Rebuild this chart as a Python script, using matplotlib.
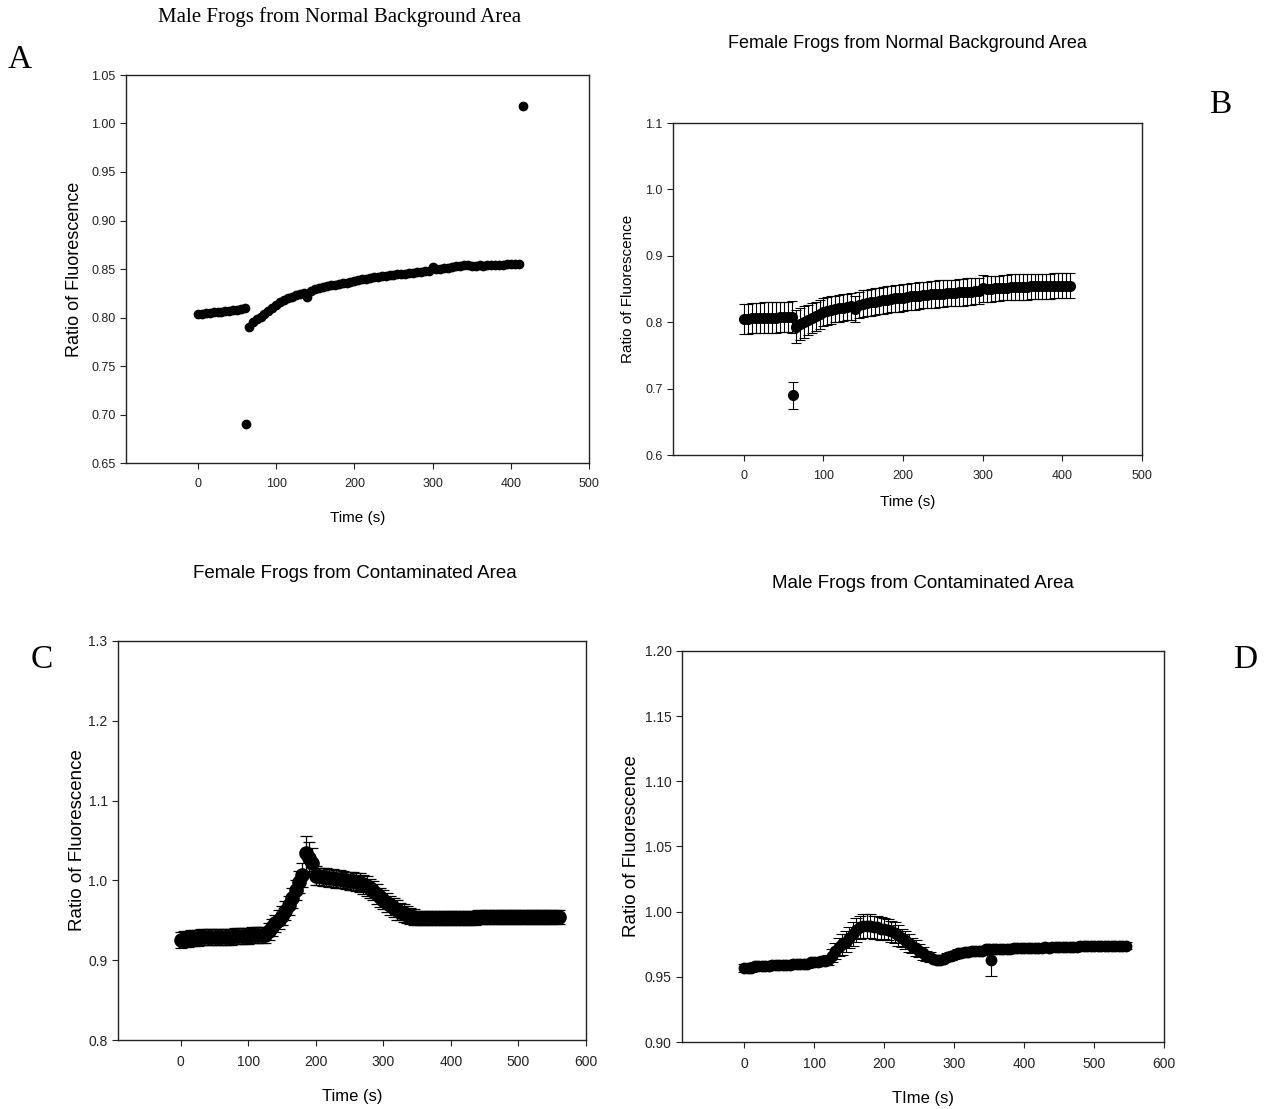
import numpy as np
import matplotlib
matplotlib.use("Agg")
from matplotlib import pyplot as plt

plt.rcParams['font.family'] = ['Liberation Sans', 'DejaVu Sans']

W, H = 1267, 1109

# --- A: male frogs, normal background (no error bars)
t_a1 = np.arange(0, 61, 5)
y_a1 = [0.804, 0.804, 0.805, 0.805, 0.806, 0.806, 0.806, 0.807, 0.807, 0.808,
        0.808, 0.809, 0.810]
t_a2 = np.arange(65, 411, 5)
y_a2 = [0.790, 0.795, 0.798, 0.801, 0.804, 0.807, 0.810, 0.813, 0.816, 0.818,
        0.820, 0.821, 0.823, 0.824, 0.825, 0.821, 0.827, 0.829, 0.830, 0.831,
        0.832, 0.833, 0.834, 0.835, 0.836, 0.836, 0.837, 0.838, 0.839, 0.840,
        0.840, 0.841, 0.842, 0.842, 0.843, 0.843, 0.844, 0.844, 0.845, 0.845,
        0.845, 0.846, 0.846, 0.847, 0.847, 0.848, 0.848, 0.852, 0.850, 0.850,
        0.851, 0.851, 0.852, 0.853, 0.853, 0.854, 0.854, 0.853, 0.853, 0.854,
        0.853, 0.854, 0.854, 0.854, 0.854, 0.854, 0.855, 0.855, 0.855, 0.855]
t_a_out = [62, 415]
y_a_out = [0.690, 1.018]

# --- B: female frogs, normal background
t_b1 = np.arange(0, 61, 5)
y_b1 = [0.805, 0.805, 0.806, 0.806, 0.806, 0.807, 0.807, 0.807, 0.807, 0.808,
        0.808, 0.808, 0.808]
e_b1 = [0.023, 0.023, 0.023, 0.023, 0.023, 0.023, 0.023, 0.023, 0.023, 0.023,
        0.023, 0.023, 0.024]
t_b2 = np.arange(65, 411, 5)
y_b2 = [0.793, 0.797, 0.800, 0.803, 0.806, 0.809, 0.812, 0.815, 0.817, 0.819,
        0.820, 0.821, 0.822, 0.823, 0.824, 0.820, 0.826, 0.828, 0.829, 0.830,
        0.831, 0.832, 0.833, 0.834, 0.835, 0.836, 0.836, 0.837, 0.838, 0.839,
        0.839, 0.840, 0.841, 0.841, 0.842, 0.842, 0.843, 0.843, 0.844, 0.844,
        0.844, 0.845, 0.845, 0.846, 0.846, 0.847, 0.847, 0.851, 0.850, 0.850,
        0.851, 0.851, 0.852, 0.852, 0.853, 0.853, 0.853, 0.853, 0.853, 0.854,
        0.854, 0.854, 0.854, 0.854, 0.854, 0.855, 0.855, 0.855, 0.855, 0.855]
e_b2 = [0.025, 0.024, 0.024, 0.023, 0.023, 0.022, 0.022, 0.021, 0.021, 0.021,
        0.020, 0.020, 0.020, 0.020, 0.020, 0.020, 0.020, 0.020, 0.020, 0.020,
        0.020, 0.020, 0.020, 0.020, 0.020, 0.020, 0.020, 0.020, 0.020, 0.020,
        0.020, 0.020, 0.020, 0.020, 0.020, 0.020, 0.020, 0.020, 0.020, 0.020,
        0.020, 0.020, 0.020, 0.020, 0.020, 0.020, 0.020, 0.020, 0.019, 0.019,
        0.019, 0.019, 0.019, 0.019, 0.019, 0.019, 0.019, 0.019, 0.019, 0.019,
        0.019, 0.019, 0.019, 0.019, 0.019, 0.019, 0.019, 0.019, 0.019, 0.019]
t_b_out = [62]
y_b_out = [0.690]
e_b_out = [0.020]

# --- C: female frogs, contaminated area
t_c = np.arange(0, 561, 5)
y_c = [0.925, 0.926, 0.927, 0.928, 0.928, 0.928, 0.929, 0.929, 0.929, 0.929,
       0.929, 0.929, 0.929, 0.929, 0.929, 0.929, 0.930, 0.930, 0.930, 0.930,
       0.930, 0.931, 0.931, 0.931, 0.931,
       0.932, 0.936, 0.941, 0.946, 0.951, 0.956, 0.962, 0.969, 0.978, 0.988,
       0.998, 1.007, 1.034, 1.028, 1.022, 1.006,
       1.005, 1.004, 1.004, 1.003, 1.003, 1.002, 1.002, 1.001, 1.000, 0.999,
       0.999, 0.998, 0.997, 0.995,
       0.993, 0.990, 0.987, 0.983, 0.979, 0.976, 0.972, 0.969, 0.966, 0.963,
       0.961, 0.959, 0.957, 0.955, 0.954, 0.953,
       0.953, 0.953, 0.953, 0.953, 0.953, 0.953, 0.953, 0.953, 0.953, 0.953,
       0.953, 0.953, 0.953, 0.953, 0.953, 0.953, 0.953, 0.954, 0.954, 0.954,
       0.954, 0.954, 0.954, 0.954, 0.954, 0.954, 0.954, 0.954, 0.954, 0.954,
       0.954, 0.954, 0.954, 0.954, 0.954, 0.954, 0.954, 0.954, 0.954, 0.954,
       0.954, 0.954]
e_c = [0.010, 0.010, 0.010, 0.010, 0.010, 0.010, 0.010, 0.010, 0.010, 0.010,
       0.010, 0.010, 0.010, 0.010, 0.010, 0.010, 0.010, 0.010, 0.010, 0.010,
       0.010, 0.010, 0.010, 0.010, 0.010,
       0.010, 0.011, 0.011, 0.011, 0.012, 0.012, 0.012, 0.012, 0.013, 0.013,
       0.014, 0.015, 0.022, 0.020, 0.018, 0.012,
       0.011, 0.011, 0.011, 0.011, 0.011, 0.011, 0.011, 0.011, 0.011, 0.011,
       0.011, 0.011, 0.012, 0.012,
       0.012, 0.012, 0.012, 0.012, 0.012, 0.012, 0.012, 0.012, 0.012, 0.012,
       0.011, 0.011, 0.011, 0.010, 0.010, 0.009,
       0.009, 0.009, 0.009, 0.009, 0.009, 0.009, 0.009, 0.009, 0.009, 0.009,
       0.009, 0.009, 0.009, 0.009, 0.009, 0.009, 0.009, 0.009, 0.009, 0.009,
       0.009, 0.009, 0.009, 0.009, 0.009, 0.009, 0.009, 0.009, 0.009, 0.009,
       0.009, 0.009, 0.009, 0.009, 0.009, 0.009, 0.009, 0.009, 0.009, 0.009,
       0.009, 0.009]

# --- D: male frogs, contaminated area
t_d = np.arange(0, 546, 5)
y_d = [0.957, 0.957, 0.957, 0.958, 0.958, 0.958, 0.958, 0.958, 0.959, 0.959,
       0.959, 0.959, 0.959, 0.959, 0.960, 0.960, 0.960, 0.960, 0.960, 0.961,
       0.961, 0.961, 0.962, 0.962,
       0.963, 0.966, 0.970, 0.973, 0.975, 0.977, 0.980, 0.983, 0.986,
       0.988, 0.989, 0.989, 0.989, 0.988, 0.988, 0.987, 0.987, 0.986, 0.985,
       0.984,
       0.982, 0.980, 0.978, 0.976, 0.974, 0.972, 0.970, 0.968, 0.966, 0.965,
       0.964, 0.963, 0.963, 0.964,
       0.965, 0.966, 0.967, 0.968, 0.968, 0.969, 0.969, 0.970, 0.970, 0.970,
       0.970, 0.971, 0.971, 0.971, 0.971, 0.971, 0.971, 0.971, 0.971, 0.972,
       0.972, 0.972, 0.972, 0.972, 0.972, 0.972, 0.972, 0.972, 0.973, 0.972,
       0.973, 0.973, 0.973, 0.973, 0.973, 0.973, 0.973, 0.973, 0.974, 0.974,
       0.974, 0.974, 0.974, 0.974, 0.974, 0.974, 0.974, 0.974, 0.974, 0.974,
       0.974, 0.974]
e_d = [0.003, 0.003, 0.003, 0.003, 0.003, 0.003, 0.003, 0.003, 0.003, 0.003,
       0.003, 0.003, 0.003, 0.003, 0.003, 0.003, 0.003, 0.003, 0.003, 0.003,
       0.003, 0.003, 0.003, 0.003,
       0.004, 0.005, 0.006, 0.007, 0.008, 0.008, 0.008, 0.009, 0.009,
       0.009, 0.009, 0.009, 0.009, 0.009, 0.009, 0.009, 0.008, 0.008, 0.008,
       0.008,
       0.008, 0.007, 0.007, 0.007, 0.006, 0.006, 0.005, 0.005, 0.004, 0.004,
       0.003, 0.003, 0.003, 0.003,
       0.003, 0.003, 0.003, 0.003, 0.003, 0.003, 0.003, 0.003, 0.003, 0.003,
       0.003, 0.003, 0.003, 0.003, 0.003, 0.003, 0.003, 0.003, 0.003, 0.003,
       0.003, 0.003, 0.003, 0.003, 0.003, 0.003, 0.003, 0.003, 0.003, 0.003,
       0.003, 0.003, 0.003, 0.003, 0.003, 0.003, 0.003, 0.003, 0.003, 0.003,
       0.003, 0.003, 0.003, 0.003, 0.003, 0.003, 0.003, 0.003, 0.003, 0.003,
       0.003, 0.003]
t_d_out = [352]
y_d_out = [0.963]
e_d_out = [0.012]


def px_axes(fig, left, top, right, bottom):
    return fig.add_axes([left / W, 1 - bottom / H, (right - left) / W, (bottom - top) / H])


def style_axes(ax, xlim, ylim, xticks, yticks, yfmt, fs):
    ax.set_xlim(*xlim)
    ax.set_ylim(*ylim)
    ax.set_xticks(xticks)
    ax.set_yticks(yticks)
    ax.set_yticklabels([yfmt.format(v) for v in yticks])
    ax.tick_params(direction='out', length=4, width=0.8, labelsize=fs,
                   colors='#222222', top=False, right=False)
    ax.tick_params(axis='x', pad=7)
    for s in ax.spines.values():
        s.set_linewidth(1.0)
        s.set_color('#222222')


fig = plt.figure(figsize=(W / 100, H / 100), dpi=100)

# A
ax = px_axes(fig, 126, 75, 589, 463)
ax.plot(t_a1, y_a1, 'o', color='black', ms=6)
ax.plot(t_a2, y_a2, 'o', color='black', ms=6)
ax.plot(t_a_out, y_a_out, 'o', color='black', ms=6)
style_axes(ax, (-92, 500), (0.65, 1.05), [0, 100, 200, 300, 400, 500],
           np.arange(0.65, 1.051, 0.05), '{:.2f}', 9)
ax.set_xlabel('Time (s)', fontsize=11, labelpad=15)
ax.set_ylabel('Ratio of Fluorescence', fontsize=13, labelpad=6)

# B
ax = px_axes(fig, 673, 123, 1142, 455)
eb = dict(fmt='o', color='black', ms=7, ecolor='black', elinewidth=0.8,
          capsize=3.5, capthick=0.8)
ax.errorbar(t_b1, y_b1, yerr=e_b1, **eb)
ax.errorbar(t_b2, y_b2, yerr=e_b2, **eb)
ax.errorbar(t_b_out, y_b_out, yerr=e_b_out, **eb)
style_axes(ax, (-89, 500), (0.6, 1.1), [0, 100, 200, 300, 400, 500],
           np.arange(0.6, 1.101, 0.1), '{:.1f}', 9)
ax.set_xlabel('Time (s)', fontsize=11, labelpad=9)
ax.set_ylabel('Ratio of Fluorescence', fontsize=11, labelpad=7)

# C
ax = px_axes(fig, 118, 641, 586, 1040)
eb = dict(fmt='o', color='black', ms=9.5, ecolor='black', elinewidth=0.9,
          capsize=4, capthick=0.9)
ax.errorbar(t_c, y_c, yerr=e_c, **eb)
style_axes(ax, (-93, 600), (0.8, 1.3), [0, 100, 200, 300, 400, 500, 600],
           np.arange(0.8, 1.301, 0.1), '{:.1f}', 10)
ax.set_xlabel('Time (s)', fontsize=12, labelpad=14)
ax.set_ylabel('Ratio of Fluorescence', fontsize=13.5, labelpad=2)

# D
ax = px_axes(fig, 682, 651, 1164, 1042)
eb = dict(fmt='o', color='black', ms=7.5, ecolor='black', elinewidth=0.8,
          capsize=4, capthick=0.8)
ax.errorbar(t_d, y_d, yerr=e_d, **eb)
ax.errorbar(t_d_out, y_d_out, yerr=e_d_out, **eb)
style_axes(ax, (-89, 600), (0.90, 1.20), [0, 100, 200, 300, 400, 500, 600],
           np.arange(0.90, 1.201, 0.05), '{:.2f}', 10)
ax.set_xlabel('TIme (s)', fontsize=12, labelpad=14)
ax.set_ylabel('Ratio of Fluorescence', fontsize=13.5, labelpad=3)


# titles and panel letters
def ftext(x, y, s, **kw):
    fig.text(x / W, 1 - y / H, s, ha='center', va='center', **kw)


serif = ['Liberation Serif', 'DejaVu Serif']
ftext(340, 17, 'Male Frogs from Normal Background Area', fontsize=15, family=serif)
ftext(907, 44, 'Female Frogs from Normal Background Area', fontsize=13)
ftext(355, 574, 'Female Frogs from Contaminated Area', fontsize=13.5)
ftext(923, 583, 'Male Frogs from Contaminated Area', fontsize=13.5)

ftext(20, 60, 'A', fontsize=24, family=serif)
ftext(1220, 105, 'B', fontsize=24, family=serif)
ftext(42, 660, 'C', fontsize=24, family=serif)
ftext(1245, 660, 'D', fontsize=24, family=serif)

fig.savefig('out.png', dpi=100)
